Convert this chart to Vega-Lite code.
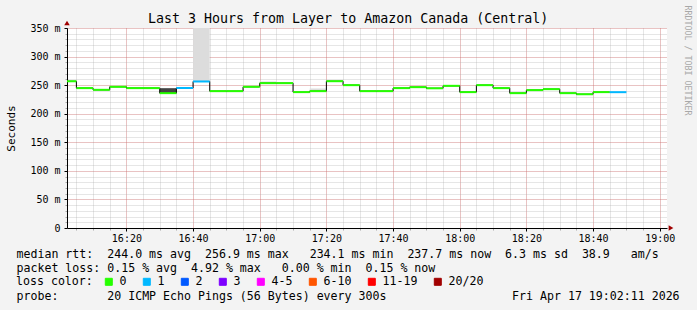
{
  "$schema": "https://vega.github.io/schema/vega-lite/v6.json",
  "width": 600,
  "height": 200,
  "autosize": {"type": "none"},
  "padding": {"left": 67, "top": 28, "right": 30, "bottom": 82},
  "background": "#f3f3f3",
  "config": {
    "view": {"fill": "white", "stroke": null},
    "font": "DejaVu Sans Mono",
    "axis": {"labelFont": "DejaVu Sans Mono", "titleFont": "DejaVu Sans Mono", "labelColor": "#000", "titleColor": "#000", "titleFontWeight": "normal"}
  },
  "title": {
    "text": "Last 3 Hours from Layer to Amazon Canada (Central)",
    "font": "DejaVu Sans Mono",
    "fontSize": 13.3,
    "fontWeight": "normal",
    "color": "#000",
    "anchor": "start",
    "frame": "group",
    "dx": 81,
    "offset": -31,
    "baseline": "alphabetic"
  },
  "datasets": {
    "segs": [
      {"t": "2026-04-17T16:00:00", "t2": "2026-04-17T16:05:00", "rtt": 256.8, "loss": "0"},
      {"t": "2026-04-17T16:05:00", "t2": "2026-04-17T16:10:00", "rtt": 244.8, "loss": "0"},
      {"t": "2026-04-17T16:10:00", "t2": "2026-04-17T16:15:00", "rtt": 241.8, "loss": "0"},
      {"t": "2026-04-17T16:15:00", "t2": "2026-04-17T16:20:00", "rtt": 247.1, "loss": "0"},
      {"t": "2026-04-17T16:20:00", "t2": "2026-04-17T16:25:00", "rtt": 244.8, "loss": "0"},
      {"t": "2026-04-17T16:25:00", "t2": "2026-04-17T16:30:00", "rtt": 244.8, "loss": "0"},
      {"t": "2026-04-17T16:30:00", "t2": "2026-04-17T16:35:00", "rtt": 236.0, "loss": "0"},
      {"t": "2026-04-17T16:35:00", "t2": "2026-04-17T16:40:00", "rtt": 245.0, "loss": "1"},
      {"t": "2026-04-17T16:40:00", "t2": "2026-04-17T16:45:00", "rtt": 256.4, "loss": "1"},
      {"t": "2026-04-17T16:45:00", "t2": "2026-04-17T16:50:00", "rtt": 239.5, "loss": "0"},
      {"t": "2026-04-17T16:50:00", "t2": "2026-04-17T16:55:00", "rtt": 239.5, "loss": "0"},
      {"t": "2026-04-17T16:55:00", "t2": "2026-04-17T17:00:00", "rtt": 247.1, "loss": "0"},
      {"t": "2026-04-17T17:00:00", "t2": "2026-04-17T17:05:00", "rtt": 253.5, "loss": "0"},
      {"t": "2026-04-17T17:05:00", "t2": "2026-04-17T17:10:00", "rtt": 253.5, "loss": "0"},
      {"t": "2026-04-17T17:10:00", "t2": "2026-04-17T17:15:00", "rtt": 237.8, "loss": "0"},
      {"t": "2026-04-17T17:15:00", "t2": "2026-04-17T17:20:00", "rtt": 239.5, "loss": "0"},
      {"t": "2026-04-17T17:20:00", "t2": "2026-04-17T17:25:00", "rtt": 256.9, "loss": "0"},
      {"t": "2026-04-17T17:25:00", "t2": "2026-04-17T17:30:00", "rtt": 250.0, "loss": "0"},
      {"t": "2026-04-17T17:30:00", "t2": "2026-04-17T17:35:00", "rtt": 239.5, "loss": "0"},
      {"t": "2026-04-17T17:35:00", "t2": "2026-04-17T17:40:00", "rtt": 239.5, "loss": "0"},
      {"t": "2026-04-17T17:40:00", "t2": "2026-04-17T17:45:00", "rtt": 244.8, "loss": "0"},
      {"t": "2026-04-17T17:45:00", "t2": "2026-04-17T17:50:00", "rtt": 246.5, "loss": "0"},
      {"t": "2026-04-17T17:50:00", "t2": "2026-04-17T17:55:00", "rtt": 244.5, "loss": "0"},
      {"t": "2026-04-17T17:55:00", "t2": "2026-04-17T18:00:00", "rtt": 248.8, "loss": "0"},
      {"t": "2026-04-17T18:00:00", "t2": "2026-04-17T18:05:00", "rtt": 237.8, "loss": "0"},
      {"t": "2026-04-17T18:05:00", "t2": "2026-04-17T18:10:00", "rtt": 250.0, "loss": "0"},
      {"t": "2026-04-17T18:10:00", "t2": "2026-04-17T18:15:00", "rtt": 244.8, "loss": "0"},
      {"t": "2026-04-17T18:15:00", "t2": "2026-04-17T18:20:00", "rtt": 236.0, "loss": "0"},
      {"t": "2026-04-17T18:20:00", "t2": "2026-04-17T18:25:00", "rtt": 241.3, "loss": "0"},
      {"t": "2026-04-17T18:25:00", "t2": "2026-04-17T18:30:00", "rtt": 243.0, "loss": "0"},
      {"t": "2026-04-17T18:30:00", "t2": "2026-04-17T18:35:00", "rtt": 236.0, "loss": "0"},
      {"t": "2026-04-17T18:35:00", "t2": "2026-04-17T18:40:00", "rtt": 234.1, "loss": "0"},
      {"t": "2026-04-17T18:40:00", "t2": "2026-04-17T18:45:00", "rtt": 237.8, "loss": "0"},
      {"t": "2026-04-17T18:45:00", "t2": "2026-04-17T18:50:00", "rtt": 237.7, "loss": "1"}
    ],
    "smoke": [
      {"t": "2026-04-17T16:30:00", "t2": "2026-04-17T16:35:00", "lo": 236.0, "hi": 244.7, "band": "dark"},
      {"t": "2026-04-17T16:40:00", "t2": "2026-04-17T16:45:00", "lo": 256.4, "hi": 360, "band": "light"},
      {"t": "2026-04-17T17:00:00", "t2": "2026-04-17T17:05:00", "lo": 253.5, "hi": 256.5, "band": "light"},
      {"t": "2026-04-17T17:15:00", "t2": "2026-04-17T17:20:00", "lo": 239.5, "hi": 244.0, "band": "light"}
    ],
    "arrows": [
      {"t": "2026-04-17T19:02:11", "v": 0, "a": "x"},
      {"t": "2026-04-17T16:02:11", "v": 350, "a": "y"}
    ]
  },
  "layer": [
    {
      "data": {"name": "smoke"},
      "mark": {"type": "rect", "clip": true},
      "encoding": {
        "x": {
          "field": "t", "type": "temporal",
          "scale": {"domain": [
            {"year": 2026, "month": 4, "date": 17, "hours": 16, "minutes": 2, "seconds": 11},
            {"year": 2026, "month": 4, "date": 17, "hours": 19, "minutes": 2, "seconds": 11}
          ], "nice": false},
          "axis": {"orient": "bottom", "values": [
            {"year": 2026, "month": 4, "date": 17, "hours": 16, "minutes": 5},
            {"year": 2026, "month": 4, "date": 17, "hours": 16, "minutes": 10},
            {"year": 2026, "month": 4, "date": 17, "hours": 16, "minutes": 15},
            {"year": 2026, "month": 4, "date": 17, "hours": 16, "minutes": 20},
            {"year": 2026, "month": 4, "date": 17, "hours": 16, "minutes": 25},
            {"year": 2026, "month": 4, "date": 17, "hours": 16, "minutes": 30},
            {"year": 2026, "month": 4, "date": 17, "hours": 16, "minutes": 35},
            {"year": 2026, "month": 4, "date": 17, "hours": 16, "minutes": 40},
            {"year": 2026, "month": 4, "date": 17, "hours": 16, "minutes": 45},
            {"year": 2026, "month": 4, "date": 17, "hours": 16, "minutes": 50},
            {"year": 2026, "month": 4, "date": 17, "hours": 16, "minutes": 55},
            {"year": 2026, "month": 4, "date": 17, "hours": 17, "minutes": 0},
            {"year": 2026, "month": 4, "date": 17, "hours": 17, "minutes": 5},
            {"year": 2026, "month": 4, "date": 17, "hours": 17, "minutes": 10},
            {"year": 2026, "month": 4, "date": 17, "hours": 17, "minutes": 15},
            {"year": 2026, "month": 4, "date": 17, "hours": 17, "minutes": 20},
            {"year": 2026, "month": 4, "date": 17, "hours": 17, "minutes": 25},
            {"year": 2026, "month": 4, "date": 17, "hours": 17, "minutes": 30},
            {"year": 2026, "month": 4, "date": 17, "hours": 17, "minutes": 35},
            {"year": 2026, "month": 4, "date": 17, "hours": 17, "minutes": 40},
            {"year": 2026, "month": 4, "date": 17, "hours": 17, "minutes": 45},
            {"year": 2026, "month": 4, "date": 17, "hours": 17, "minutes": 50},
            {"year": 2026, "month": 4, "date": 17, "hours": 17, "minutes": 55},
            {"year": 2026, "month": 4, "date": 17, "hours": 18, "minutes": 0},
            {"year": 2026, "month": 4, "date": 17, "hours": 18, "minutes": 5},
            {"year": 2026, "month": 4, "date": 17, "hours": 18, "minutes": 10},
            {"year": 2026, "month": 4, "date": 17, "hours": 18, "minutes": 15},
            {"year": 2026, "month": 4, "date": 17, "hours": 18, "minutes": 20},
            {"year": 2026, "month": 4, "date": 17, "hours": 18, "minutes": 25},
            {"year": 2026, "month": 4, "date": 17, "hours": 18, "minutes": 30},
            {"year": 2026, "month": 4, "date": 17, "hours": 18, "minutes": 35},
            {"year": 2026, "month": 4, "date": 17, "hours": 18, "minutes": 40},
            {"year": 2026, "month": 4, "date": 17, "hours": 18, "minutes": 45},
            {"year": 2026, "month": 4, "date": 17, "hours": 18, "minutes": 50},
            {"year": 2026, "month": 4, "date": 17, "hours": 18, "minutes": 55},
            {"year": 2026, "month": 4, "date": 17, "hours": 19, "minutes": 0}
          ], "grid": true, "gridColor": "#ababab", "gridOpacity": 0.6, "gridDash": [1, 1], "labels": false, "ticks": true, "tickSize": 2, "tickColor": "#ababab", "domain": false,
            "title": "probe:\u00a0\u00a0\u00a0\u00a0\u00a0\u00a0\u00a020 ICMP Echo Pings (56 Bytes) every 300s\u00a0\u00a0\u00a0\u00a0\u00a0\u00a0\u00a0\u00a0\u00a0\u00a0\u00a0\u00a0\u00a0\u00a0\u00a0\u00a0\u00a0\u00a0Fri Apr 17 19:02:11 2026",
            "titleFontSize": 11.6, "titleAlign": "left", "titleBaseline": "alphabetic", "titleX": -51, "titleY": 71}
        },
        "x2": {"field": "t2"},
        "y": {
          "field": "lo", "type": "quantitative",
          "scale": {"domain": [0, 350], "nice": false, "zero": false},
          "axis": {"orient": "left", "values": [0,10,20,30,40,50,60,70,80,90,100,110,120,130,140,150,160,170,180,190,200,210,220,230,240,250,260,270,280,290,300,310,320,330,340,350], "grid": true, "gridColor": "#ababab", "gridOpacity": 0.6, "gridDash": [1, 1], "labels": false, "ticks": true, "tickSize": 2, "tickColor": "#ababab", "domain": false, "title": null}
        },
        "y2": {"field": "hi"},
        "fill": {"field": "band", "type": "nominal", "scale": {"domain": ["light", "dark"], "range": ["#dcdcdc", "#444444"]}, "legend": null}
      }
    },
    {
      "data": {"name": "segs"},
      "mark": {"type": "line", "interpolate": "step-after", "color": "#000", "strokeWidth": 1, "clip": true},
      "encoding": {
        "x": {
          "field": "t", "type": "temporal",
          "axis": {
            "orient": "bottom", "values": [
              {"year": 2026, "month": 4, "date": 17, "hours": 16, "minutes": 20},
              {"year": 2026, "month": 4, "date": 17, "hours": 16, "minutes": 40},
              {"year": 2026, "month": 4, "date": 17, "hours": 17, "minutes": 0},
              {"year": 2026, "month": 4, "date": 17, "hours": 17, "minutes": 20},
              {"year": 2026, "month": 4, "date": 17, "hours": 17, "minutes": 40},
              {"year": 2026, "month": 4, "date": 17, "hours": 18, "minutes": 0},
              {"year": 2026, "month": 4, "date": 17, "hours": 18, "minutes": 20},
              {"year": 2026, "month": 4, "date": 17, "hours": 18, "minutes": 40},
              {"year": 2026, "month": 4, "date": 17, "hours": 19, "minutes": 0}
            ], "format": "%H:%M",
            "grid": true, "gridColor": "#ff0000", "gridOpacity": 0.3, "gridDash": [1, 1],
            "domainColor": "#000", "tickColor": "#000", "tickSize": 3,
            "labelFontSize": 10, "labelPadding": 2, "labelFlush": false, "labelOverlap": false,
            "title": [
              "median rtt:\u00a0\u00a0244.0 ms avg\u00a0\u00a0256.9 ms max\u00a0\u00a0\u00a0234.1 ms min\u00a0\u00a0237.7 ms now\u00a0\u00a06.3 ms sd\u00a0\u00a038.9\u00a0\u00a0\u00a0am/s",
              "packet loss: 0.15 % avg\u00a0\u00a04.92 % max\u00a0\u00a0\u00a00.00 % min\u00a0\u00a00.15 % now"
            ],
            "titleFontSize": 11.6, "titleAlign": "left", "titleBaseline": "alphabetic",
            "titleX": -51, "titleY": 29, "titleLineHeight": 14
          }
        },
        "y": {
          "field": "rtt", "type": "quantitative",
          "axis": {
            "orient": "left", "values": [0, 50, 100, 150, 200, 250, 300, 350],
            "labelExpr": "datum.value == 0 ? '0\u00a0\u00a0' : datum.value + ' m'",
            "grid": true, "gridColor": "#ff0000", "gridOpacity": 0.3, "gridDash": [1, 1],
            "domainColor": "#000", "tickColor": "#000", "tickSize": 3,
            "labelFontSize": 10, "labelPadding": 4,
            "title": "Seconds", "titleFontSize": 11, "titleAngle": -90, "titleAlign": "center", "titleBaseline": "middle",
            "titleX": -56, "titleY": 100
          }
        }
      }
    },
    {
      "data": {"name": "segs"},
      "mark": {"type": "rule", "strokeWidth": 2, "clip": true},
      "encoding": {
        "x": {"field": "t", "type": "temporal", "axis": null},
        "x2": {"field": "t2"},
        "y": {
          "field": "rtt", "type": "quantitative",
          "axis": {"orient": "right", "domain": false, "ticks": false, "labels": false, "grid": false,
            "title": "RRDTOOL / TOBI OETIKER", "titleFont": "DejaVu Sans Mono", "titleFontSize": 8.3, "titleColor": "#a8a8a8",
            "titleAngle": 90, "titleAlign": "left", "titleBaseline": "middle", "titleX": 19.5, "titleY": -23}
        },
        "color": {
          "field": "loss", "type": "nominal",
          "scale": {"domain": ["0", "1", "2", "3", "4-5", "6-10", "11-19", "20/20"],
                    "range": ["#26ff00", "#00b8ff", "#0059ff", "#7e00ff", "#ff00ff", "#ff5500", "#ff0000", "#a10000"]},
          "legend": {
            "orient": "none", "legendX": -51, "legendY": 248, "direction": "horizontal", "columns": 8,
            "title": "loss color:", "titleOrient": "left", "titleFont": "DejaVu Sans Mono", "titleFontSize": 11.6, "titleFontWeight": "normal", "titleColor": "#000", "titlePadding": 10,
            "symbolType": "square", "symbolSize": 49, "symbolStrokeColor": "#000", "symbolStrokeWidth": 1,
            "labelFont": "DejaVu Sans Mono", "labelFontSize": 11.6, "labelColor": "#000", "labelOffset": 5,
            "columnPadding": 14, "gridAlign": "none",
            "encode": {"symbols": {"update": {"fill": {"scale": "color", "field": "value"}, "stroke": {"value": "#000"}, "strokeWidth": {"value": 1}}}}
          }
        }
      }
    },
    {
      "data": {"name": "arrows"},
      "transform": [{"filter": "datum.a == 'x'"}],
      "mark": {"type": "point", "shape": "triangle-right", "filled": true, "color": "#a00000", "opacity": 1, "size": 30, "xOffset": 4, "clip": false},
      "encoding": {
        "x": {"field": "t", "type": "temporal", "axis": null},
        "y": {"field": "v", "type": "quantitative", "axis": null}
      }
    },
    {
      "data": {"name": "arrows"},
      "transform": [{"filter": "datum.a == 'y'"}],
      "mark": {"type": "point", "shape": "triangle-up", "filled": true, "color": "#a00000", "opacity": 1, "size": 30, "yOffset": -5, "clip": false},
      "encoding": {
        "x": {"field": "t", "type": "temporal", "axis": null},
        "y": {"field": "v", "type": "quantitative", "axis": null}
      }
    }
  ],
  "resolve": {"axis": {"x": "independent", "y": "independent"}}
}
